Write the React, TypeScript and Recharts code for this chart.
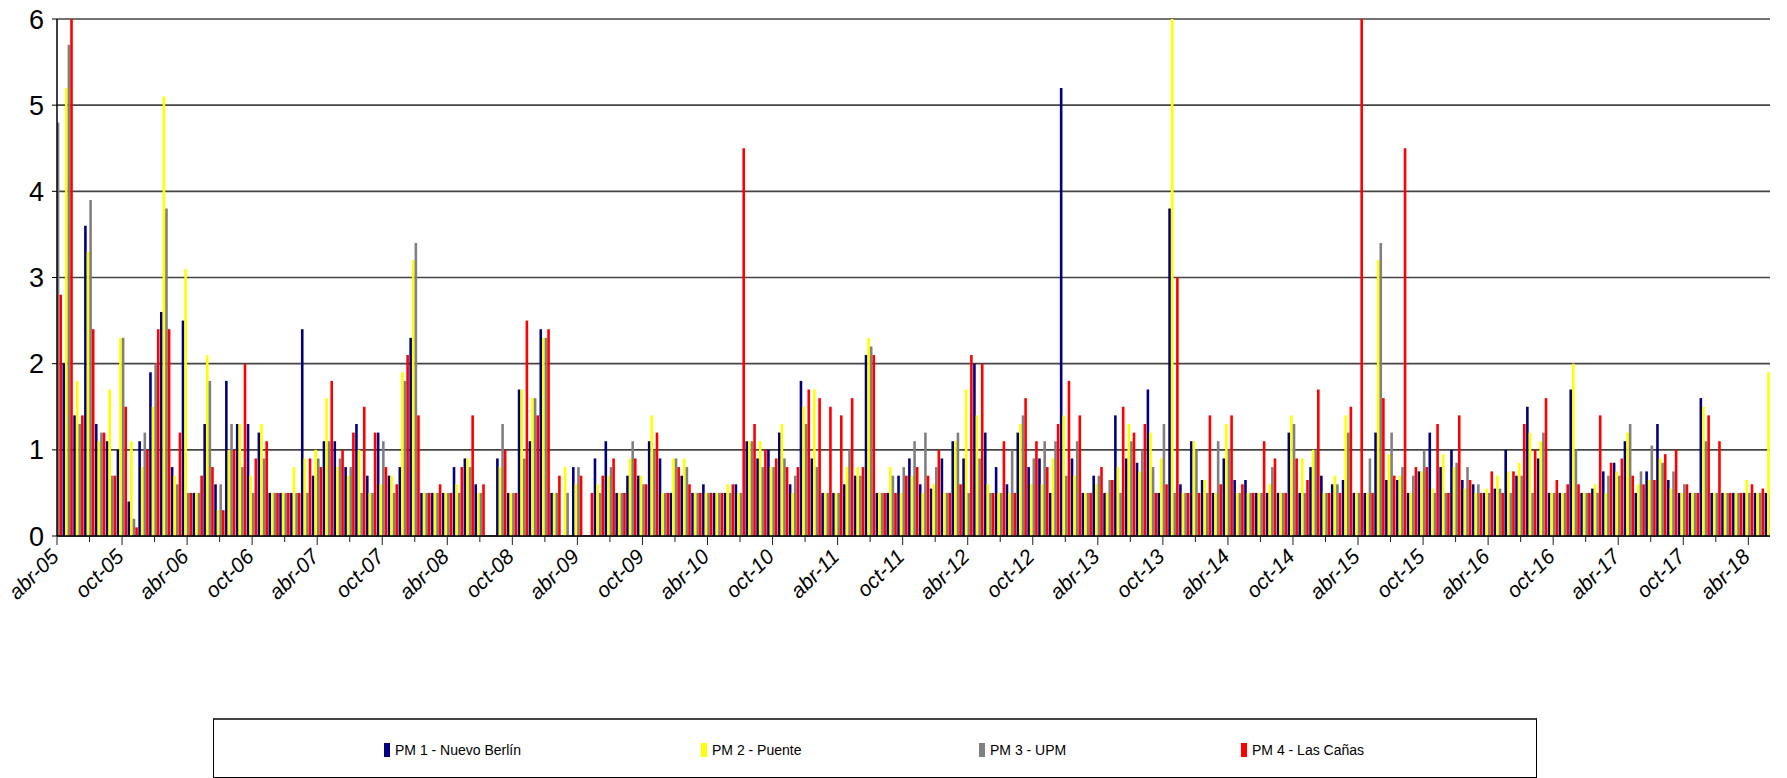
import { BarChart, Bar, XAxis, YAxis, CartesianGrid } from "recharts"

// monthly values, abr-05 (index 0) to jun-18 (index 158)
const pm1 = [
  null, 2.0, 1.4, 3.6, 1.3, 1.1, 1.0, 0.4, 1.1, 1.9,
  2.6, 0.8, 2.5, 0.5, 1.3, 0.6, 1.8, 1.3, 1.3, 1.2,
  0.5, 0.5, 0.5, 2.4, 0.7, 1.1, 1.1, 0.8, 1.3, 0.7,
  1.2, 0.7, 0.8, 2.3, 0.5, 0.5, 0.5, 0.8, 0.9, 0.6,
  null, 0.9, 0.5, 1.7, 1.1, 2.4, 0.5, null, 0.8, null,
  0.9, 1.1, 0.5, 0.7, 0.7, 1.1, 0.9, 0.5, 0.7, 0.5,
  0.6, 0.5, 0.5, 0.6, 1.1, 0.9, 1.0, 1.2, 0.6, 1.8,
  0.9, 0.5, 0.5, 0.6, 0.7, 2.1, 0.5, 0.5, 0.7, 0.9,
  0.6, 0.55, 0.9, 1.1, 0.9, 2.0, 1.2, 0.8, 0.6, 1.2,
  0.8, 0.9, 0.5, 5.2, 0.9, 0.5, 0.7, 0.5, 1.4, 0.9,
  0.85, 1.7, 0.5, 3.8, 0.6, 1.1, 0.65, 0.5, 0.9, 0.65,
  0.65, 0.5, 0.5, 0.5, 1.2, 0.5, 0.8, 0.7, 0.6, 0.65,
  0.5, 0.5, 1.2, 0.65, 0.65, 0.5, 0.75, 1.2, 0.8, 1.0,
  0.65, 0.6, 0.5, 0.55, 1.0, 0.7, 1.5, 0.9, 0.5, 0.5,
  1.7, 0.5, 0.55, 0.75, 0.85, 1.1, 0.5, 0.75, 1.3, 0.65,
  0.5, 0.5, 1.6, 0.5, 0.5, 0.5, 0.5, 0.5, 0.5,
]

const pm2 = [
  null, 5.2, 1.8, 3.3, 1.1, 1.7, 2.3, 1.1, 0.8, 1.5,
  5.1, 0.7, 3.1, 0.5, 2.1, 0.3, 1.0, 1.3, 0.7, 1.3,
  0.5, 0.5, 0.8, 0.9, 1.0, 1.6, 0.8, 0.7, 1.0, 0.5,
  0.6, 0.7, 1.9, 3.2, 0.5, 0.5, 0.5, 0.6, 0.9, 0.5,
  null, 0.8, 0.5, 1.7, 1.6, 2.3, 0.5, 0.8, 0.6, null,
  0.6, 0.7, 0.5, 0.9, 0.7, 1.4, 0.5, 0.9, 0.9, 0.5,
  0.5, 0.5, 0.6, 0.5, 1.1, 1.1, 0.8, 1.3, 0.5, 1.5,
  1.7, 0.5, 0.5, 0.8, 0.8, 2.3, 0.5, 0.8, 0.5, 0.7,
  0.5, 0.6, 0.5, 1.1, 1.7, 1.4, 0.6, 0.5, 0.5, 1.3,
  0.6, 0.6, 0.9, 1.4, 0.7, 0.5, 0.6, 0.5, 0.8, 1.3,
  0.75, 1.2, 0.9, 6.0, 0.5, 1.1, 0.65, 0.5, 1.3, 0.5,
  0.5, 0.5, 0.6, 0.5, 1.4, 0.9, 1.0, 0.5, 0.7, 1.4,
  0.5, 0.5, 3.2, 0.95, 0.7, 0.5, 0.75, 0.55, 0.95, 0.8,
  0.55, 0.5, 0.55, 0.7, 0.75, 0.85, 1.2, 1.1, 0.5, 0.5,
  2.0, 0.5, 0.6, 0.5, 0.75, 1.2, 0.6, 0.65, 0.9, 0.55,
  0.5, 0.5, 1.5, 0.5, 0.5, 0.5, 0.65, 0.5, 1.9,
]

const pm3 = [
  4.8, 5.7, 1.3, 3.9, 1.2, 0.7, 2.3, 0.2, 1.2, 2.0,
  3.8, 0.6, 0.5, 0.5, 1.8, 0.6, 1.3, 0.8, 0.5, 0.9,
  0.5, 0.5, 0.5, 0.5, 0.9, 1.1, 0.9, 0.8, 0.5, 0.5,
  1.1, 0.5, 1.8, 3.4, 0.5, 0.5, 0.5, 0.5, 0.8, 0.5,
  null, 1.3, 0.5, 0.9, 1.6, 2.3, 0.5, 0.5, 0.8, null,
  0.5, 0.8, 0.5, 1.1, 0.6, 1.0, 0.5, 0.9, 0.8, 0.5,
  0.5, 0.5, 0.5, 0.5, 1.1, 0.8, 0.8, 0.9, 0.7, 1.3,
  0.8, 0.5, 0.5, 1.0, 0.7, 2.2, 0.5, 0.7, 0.8, 1.1,
  1.2, 0.8, 0.5, 1.2, 0.5, 0.9, 0.5, 0.5, 1.0, 1.4,
  0.9, 1.1, 1.1, 0.7, 1.1, 0.5, 0.7, 0.65, 0.5, 1.1,
  1.0, 0.8, 1.3, 0.5, 0.5, 1.0, 0.5, 1.1, 1.0, 0.5,
  0.5, 0.5, 0.8, 0.5, 1.3, 0.5, 1.0, 0.5, 0.6, 1.2,
  0.5, 0.9, 3.4, 1.2, 0.8, 0.7, 1.0, 0.5, 0.5, 0.85,
  0.8, 0.6, 0.5, 0.55, 0.5, 0.7, 0.5, 1.2, 0.5, 0.5,
  1.0, 0.5, 0.5, 0.7, 0.7, 1.3, 0.75, 1.05, 0.85, 0.75,
  0.6, 0.5, 1.1, 0.5, 0.5, 0.5, 0.5, 0.5, 0.5,
]

const pm4 = [
  2.8, 6.0, 1.4, 2.4, 1.2, 0.7, 1.5, 0.1, 1.0, 2.4,
  2.4, 1.2, 0.5, 0.7, 0.8, 0.3, 1.0, 2.0, 0.9, 1.1,
  0.5, 0.5, 0.5, 0.9, 0.8, 1.8, 1.0, 1.2, 1.5, 1.2,
  0.8, 0.6, 2.1, 1.4, 0.5, 0.6, 0.5, 0.8, 1.4, 0.6,
  null, 1.0, 0.5, 2.5, 1.4, 2.4, 0.7, null, 0.7, 0.5,
  0.7, 0.9, 0.5, 0.9, 0.6, 1.2, 0.5, 0.8, 0.6, 0.5,
  0.5, 0.5, 0.6, 4.5, 1.3, 1.0, 0.9, 0.8, 0.8, 1.7,
  1.6, 1.5, 1.4, 1.6, 0.8, 2.1, 0.5, 0.5, 0.7, 0.8,
  0.7, 1.0, 0.5, 0.6, 2.1, 2.0, 0.5, 1.1, 0.5, 1.6,
  1.1, 0.8, 1.3, 1.8, 1.4, 0.5, 0.8, 0.65, 1.5, 1.2,
  1.3, 0.5, 0.6, 3.0, 0.5, 0.5, 1.4, 0.6, 1.4, 0.6,
  0.5, 1.1, 0.9, 0.5, 0.9, 0.65, 1.7, 0.5, 0.5, 1.5,
  6.0, 0.5, 1.6, 0.7, 4.5, 0.8, 0.8, 1.3, 0.5, 1.4,
  0.65, 0.5, 0.75, 0.5, 0.75, 1.3, 1.0, 1.6, 0.65, 0.6,
  0.6, 0.5, 1.4, 0.85, 0.9, 0.7, 0.6, 0.65, 0.95, 1.0,
  0.6, 0.5, 1.4, 1.1, 0.5, 0.5, 0.6, 0.55, 0.5,
]

// one label every 6 months, starting at index 0
const tickLabels = [
  "abr-05", "oct-05", "abr-06", "oct-06", "abr-07", "oct-07", "abr-08",
  "oct-08", "abr-09", "oct-09", "abr-10", "oct-10", "abr-11", "oct-11",
  "abr-12", "oct-12", "abr-13", "oct-13", "abr-14", "oct-14", "abr-15",
  "oct-15", "abr-16", "oct-16", "abr-17", "oct-17", "abr-18",
]

const seriesNames = ["PM 1 - Nuevo Berlín", "PM 2 - Puente", "PM 3 - UPM", "PM 4 - Las Cañas"]
const colors = ["#000080", "#FFFF00", "#808080", "#FF0000"]

const data = pm1.map((v, i) => ({ i, pm1: v, pm2: pm2[i], pm3: pm3[i], pm4: pm4[i] }))
const xTicks = data.filter((d) => d.i % 3 === 0 && d.i <= 156).map((d) => d.i)

function MonthTick({ x, y, payload }: any) {
  const v = payload.value
  const labelled = v % 6 === 0
  const tx = x + 3
  const ty = y + 22
  return (
    <g>
      <line x1={x} y1={y} x2={x} y2={y + (labelled ? 9 : 6)} stroke="#222" strokeWidth={1} />
      {labelled && (
        <text
          x={tx}
          y={ty}
          transform={`rotate(-45 ${tx} ${ty})`}
          textAnchor="end"
          fontSize={21}
          fontStyle="italic"
          fill="#000"
        >
          {tickLabels[v / 6]}
        </text>
      )}
    </g>
  )
}

const legendX = [383, 700, 978, 1240]

export default function App() {
  return (
    <div
      style={{
        position: "absolute",
        left: 0,
        top: 0,
        width: 1787,
        height: 778,
        background: "#fff",
        fontFamily: "'Liberation Sans', Arial, sans-serif",
      }}
    >
      <BarChart
        width={1787}
        height={778}
        data={data}
        margin={{ top: 19, right: 17, bottom: 0, left: 0 }}
        barGap={0}
      >
        <CartesianGrid horizontal vertical={false} stroke="#444" strokeWidth={1.6} />
        <XAxis
          type="number"
          dataKey="i"
          domain={[0, 158]}
          allowDataOverflow
          ticks={xTicks}
          interval={0}
          height={242}
          tickSize={0}
          tickMargin={0}
          tickLine={false}
          axisLine={{ stroke: "#000", strokeWidth: 1.5 }}
          tick={<MonthTick />}
        />
        <YAxis
          domain={[0, 6]}
          ticks={[0, 1, 2, 3, 4, 5, 6]}
          width={57}
          tickSize={5}
          tickMargin={8}
          axisLine={{ stroke: "#000", strokeWidth: 1.5 }}
          tickLine={{ stroke: "#000" }}
          tick={{ fontSize: 27, fill: "#000" }}
        />
        <Bar dataKey="pm1" name={seriesNames[0]} fill={colors[0]} barSize={2.6} isAnimationActive={false} />
        <Bar dataKey="pm2" name={seriesNames[1]} fill={colors[1]} barSize={2.6} isAnimationActive={false} />
        <Bar dataKey="pm3" name={seriesNames[2]} fill={colors[2]} barSize={2.6} isAnimationActive={false} />
        <Bar dataKey="pm4" name={seriesNames[3]} fill={colors[3]} barSize={2.6} isAnimationActive={false} />
      </BarChart>

      <div
        style={{
          position: "absolute",
          left: 213,
          top: 718,
          width: 1324,
          height: 60,
          boxSizing: "border-box",
          border: "1px solid #000",
          borderTop: "2px solid #444",
          background: "#fff",
        }}
      >
        {seriesNames.map((name, idx) => (
          <div
            key={name}
            style={{
              position: "absolute",
              left: legendX[idx] - 213,
              top: 22,
              display: "flex",
              alignItems: "center",
              fontSize: 14,
              color: "#000",
              whiteSpace: "nowrap",
            }}
          >
            <span style={{ display: "inline-block", width: 6, height: 14, background: colors[idx], marginRight: 5 }} />
            {name}
          </div>
        ))}
      </div>
    </div>
  )
}
